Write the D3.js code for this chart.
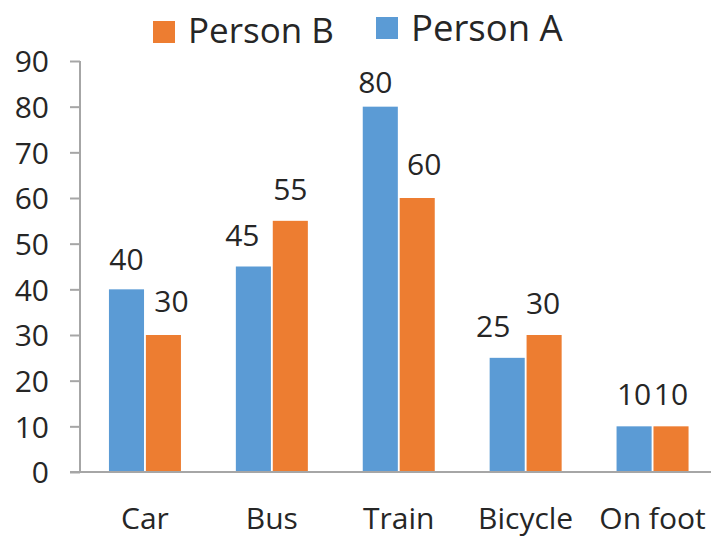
<!DOCTYPE html>
<html>
<head>
<meta charset="utf-8">
<script src="https://cdn.jsdelivr.net/npm/d3@7"></script>
<style>
  body { margin: 0; background: #fff; }
  text { font-family: "Open Sans", sans-serif; fill: #262626; }
  .axis .domain { display: none; }
  .axis line { stroke: #a6a6a6; stroke-width: 2; }
</style>
</head>
<body>
<div class="chart"></div>
<script>
// Data
const categories = ["Car", "Bus", "Train", "Bicycle", "On foot"];
const series = ["Person A", "Person B"];
const personA = [40, 45, 80, 25, 10];
const personB = [30, 55, 60, 30, 10];
const yTicks = [0, 10, 20, 30, 40, 50, 60, 70, 80, 90];

// Layout
const width = 711, height = 537;
const colors = {"Person A": "#5B9BD5", "Person B": "#ED7D31"};
// hand nudges so labels sit where the original put them
const labelNudge = {
  "Person A": [[0, 2], [-11, 0], [-5, 7], [-14, 0], [0, 0]],
  "Person B": [[8, -2], [0, 0], [7, -2], [-1, 0], [0, 0]]
};
// x, square top, text baseline, font size
const legendPos = {"Person B": [153, 21, 43, 35], "Person A": [376, 17, 41, 36.5]};

// Scales
const xScale = d3.scaleBand()
    .domain(categories)
    .range([81.5, 716])
    .padding(0);
const groupWidth = 72;
const xFacet = d3.scaleBand()
    .domain(series)
    .range([0, groupWidth])
    .paddingInner(0.05);
const yScale = d3.scaleLinear()
    .domain([0, 90])
    .range([472, 61]);

const svg = d3.select(".chart").append("svg")
    .attr("width", width)
    .attr("height", height);

// Y axis
const yAxis = svg.append("g")
    .attr("class", "axis y")
    .attr("transform", "translate(80,0)")
    .call(d3.axisLeft(yScale).tickValues(yTicks).tickSize(10).tickSizeOuter(0).tickPadding(21));
yAxis.selectAll("text")
    .style("font-size", "30px")
    .attr("dy", "0.36em");
svg.append("line")
    .attr("x1", 80).attr("x2", 80)
    .attr("y1", yScale(90)).attr("y2", yScale(0))
    .attr("stroke", "#a6a6a6").attr("stroke-width", 2);

// Bars
const rows = [];
categories.forEach((c, i) => {
  rows.push({cat: c, i: i, s: "Person A", v: personA[i]});
  rows.push({cat: c, i: i, s: "Person B", v: personB[i]});
});
const barX = d => xScale(d.cat) + (xScale.bandwidth() - groupWidth) / 2 + xFacet(d.s);

svg.selectAll(".bar")
    .data(rows)
  .enter().append("rect")
    .attr("class", "bar")
    .attr("x", barX)
    .attr("y", d => yScale(d.v))
    .attr("width", xFacet.bandwidth())
    .attr("height", d => yScale(0) - yScale(d.v))
    .attr("fill", d => colors[d.s]);

// Baseline
svg.append("line")
    .attr("x1", 70).attr("x2", width)
    .attr("y1", yScale(0)).attr("y2", yScale(0))
    .attr("stroke", "#a6a6a6").attr("stroke-width", 2);

// Value labels
svg.selectAll(".value")
    .data(rows)
  .enter().append("text")
    .attr("class", "value")
    .attr("text-anchor", "middle")
    .style("font-size", "30px")
    .attr("x", d => barX(d) + xFacet.bandwidth() / 2 + labelNudge[d.s][d.i][0])
    .attr("y", d => yScale(d.v) - 21 + labelNudge[d.s][d.i][1])
    .text(d => d.v);

// X axis labels
const xAxis = svg.append("g")
    .attr("class", "axis x")
    .attr("transform", "translate(0," + yScale(0) + ")")
    .call(d3.axisBottom(xScale).tickSize(0).tickPadding(36));
xAxis.selectAll("text")
    .style("font-size", "30px")
    .attr("dy", "0.71em");

// Legend
const legend = svg.selectAll(".legend")
    .data(["Person B", "Person A"])
  .enter().append("g")
    .attr("class", "legend");
legend.append("rect")
    .attr("x", d => legendPos[d][0])
    .attr("y", d => legendPos[d][1])
    .attr("width", 22).attr("height", 22)
    .attr("fill", d => colors[d]);
legend.append("text")
    .attr("x", d => legendPos[d][0] + 35)
    .attr("y", d => legendPos[d][2])
    .style("font-size", d => legendPos[d][3] + "px")
    .text(d => d);
</script>
</body>
</html>
